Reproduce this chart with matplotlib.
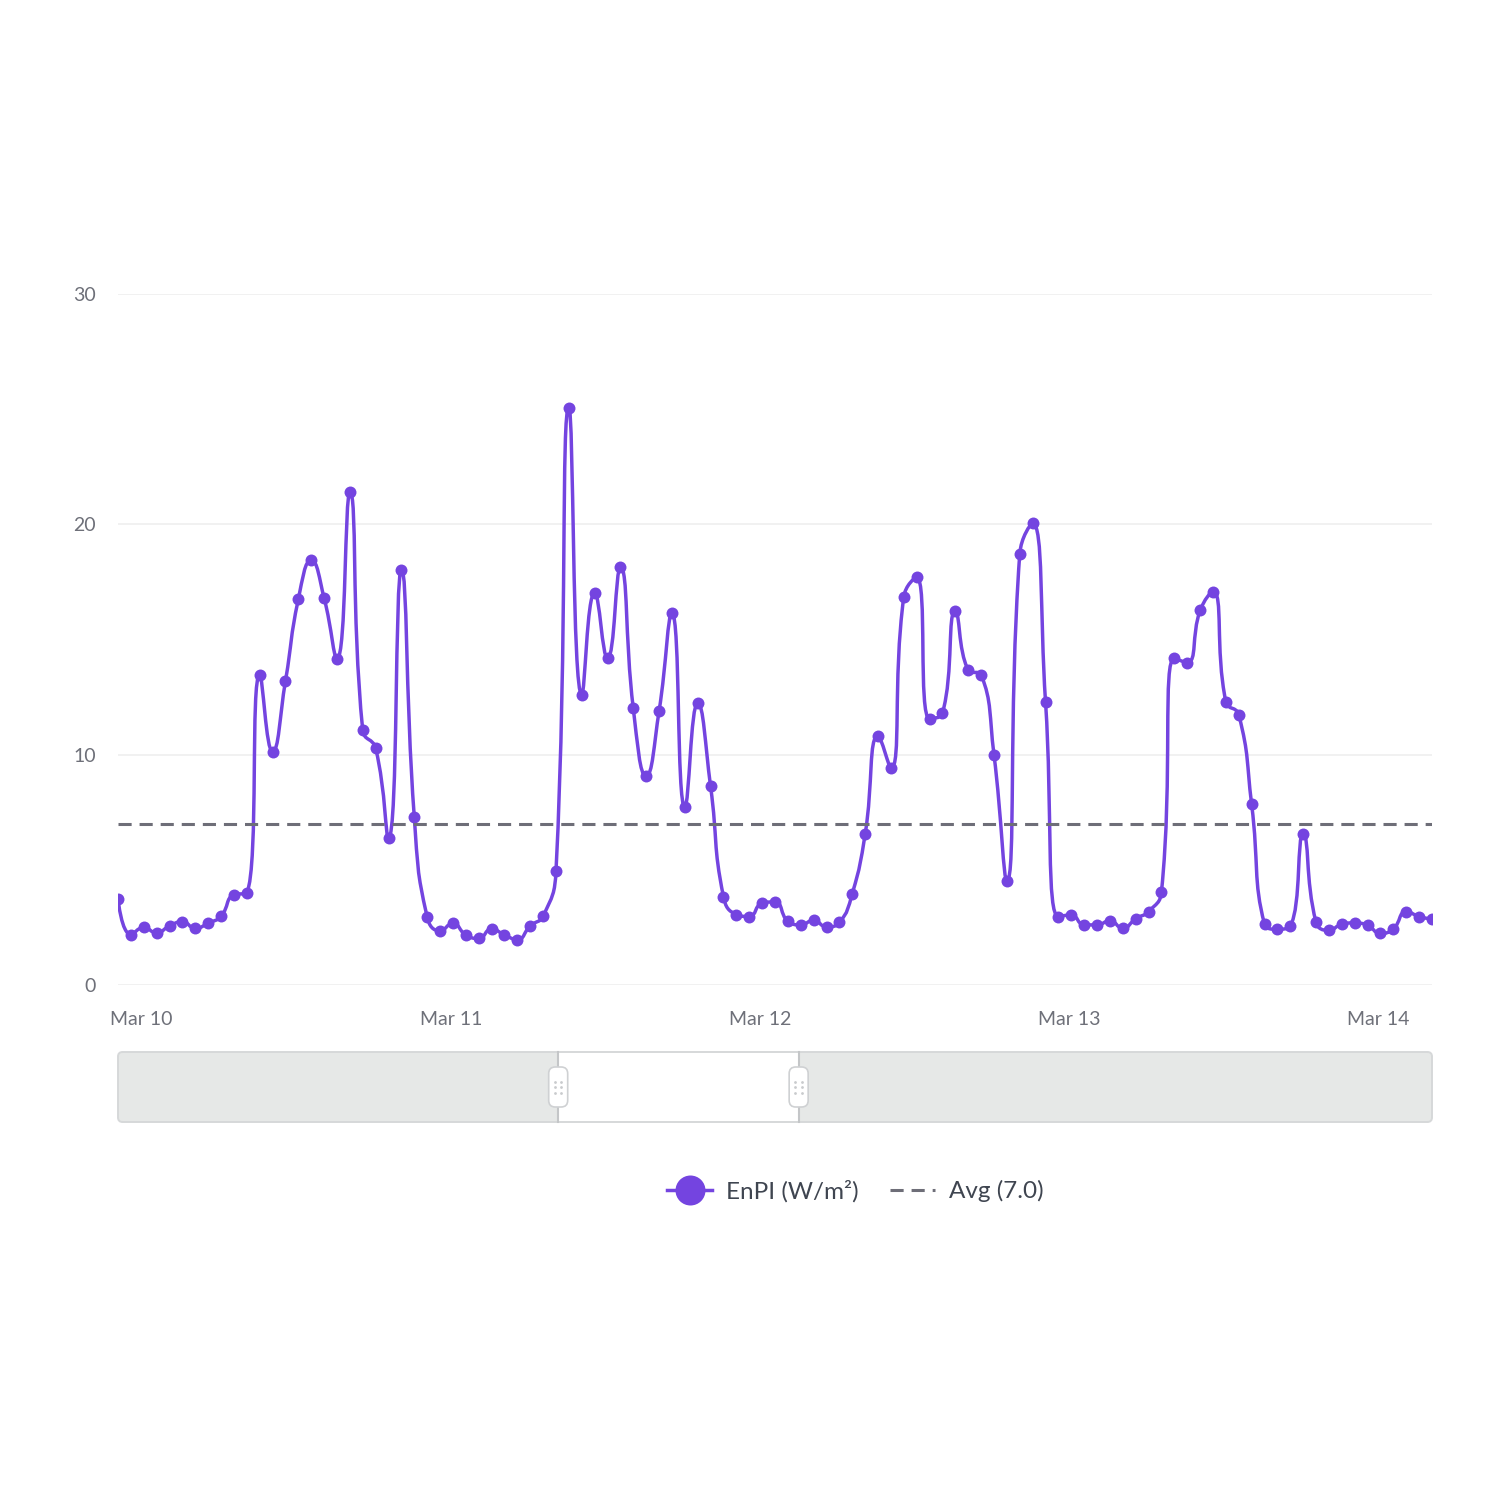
import numpy as np
import pandas as pd
import matplotlib
matplotlib.use('Agg')
import matplotlib.pyplot as plt
import matplotlib.dates as mdates
from matplotlib.path import Path
from matplotlib.patches import PathPatch, FancyBboxPatch, Rectangle
from matplotlib.lines import Line2D
from matplotlib.ticker import FuncFormatter

# ---------------- data ----------------
start_time = '2024-03-09 22:10'
enpi = [
    3.74, 2.19, 2.50, 2.26, 2.57, 2.75, 2.46, 2.68, 2.99, 3.92, 3.99,
    13.45, 10.12, 13.20, 16.75, 18.45, 16.80, 14.15, 21.39, 11.05, 10.28, 6.38, 18.03, 7.29,
    2.95, 2.35, 2.68, 2.17, 2.02, 2.44, 2.17, 1.97, 2.57, 2.99, 4.96,
    25.07, 12.60, 17.03, 14.18, 18.14, 12.01, 9.06, 11.89, 16.15, 7.73, 12.25, 8.62,
    3.83, 3.06, 2.97, 3.56, 3.61, 2.77, 2.61, 2.81, 2.52, 2.72, 3.97, 6.56,
    10.81, 9.41, 16.86, 17.70, 11.56, 11.80, 16.24, 13.67, 13.47, 9.99, 4.52, 18.72, 20.04, 12.29,
    2.97, 3.04, 2.61, 2.61, 2.79, 2.46, 2.88, 3.19, 4.05,
    14.18, 14.00, 16.26, 17.08, 12.29, 11.74, 7.84, 2.64, 2.42, 2.55, 6.56, 2.73, 2.37, 2.64,
    2.70, 2.59, 2.24, 2.44, 3.19, 2.97, 2.86,
]
avg_value = 7.0
y_ticks = [0, 10, 20, 30]
series_label = 'EnPI (W/m²)'
avg_label = 'Avg (7.0)'
zoom_start_pct = 33.5
zoom_end_pct = 51.8

# ---------------- style ----------------
PURPLE = '#7444E0'
AXIS_TXT = '#6e7079'
GRID = '#efefef'
AVG_C = '#6e6e78'

plt.rcParams['font.family'] = ['Lato', 'DejaVu Sans']

W = H = 1491
fig = plt.figure(figsize=(W / 100, H / 100), dpi=100)
fig.patch.set_facecolor('white')

ax = fig.add_axes([118 / W, 1 - 985 / H, (1432 - 118) / W, (985 - 294) / H])

times = pd.date_range(start_time, periods=len(enpi), freq='h')
x = mdates.date2num(times.to_pydatetime())
y = np.asarray(enpi, dtype=float)

ax.set_xlim(x[0], x[-1])
ax.set_ylim(y_ticks[0], y_ticks[-1])
ax.set_yticks(y_ticks)
ax.grid(axis='y', color=GRID, lw=1.2)
ax.set_axisbelow(True)
for s in ax.spines.values():
    s.set_visible(False)

ax.xaxis.set_major_locator(mdates.DayLocator())
ax.xaxis.set_major_formatter(FuncFormatter(
    lambda v, p: mdates.num2date(v).strftime('%b ') + str(mdates.num2date(v).day)))
ax.tick_params(axis='both', length=0, labelsize=14, labelcolor=AXIS_TXT)
ax.tick_params(axis='y', pad=16)
ax.tick_params(axis='x', pad=19)


# smoothed line (ECharts-like bezier smoothing in pixel space)
def smooth_path(P, smooth=0.5):
    n = len(P)
    verts = [P[0]]
    codes = [Path.MOVETO]
    cp0 = P[0].copy()
    for i in range(1, n):
        xx, yy = P[i]
        px, py = P[i - 1]
        if i == n - 1:
            cp1 = np.array([xx, yy])
            ncp0 = None
        else:
            nx, ny = P[i + 1]
            vx, vy = nx - px, ny - py
            l0 = np.hypot(xx - px, yy - py)
            l1 = np.hypot(nx - xx, ny - yy)
            r = l1 / (l0 + l1)
            ncx = xx + vx * smooth * r
            ncy = yy + vy * smooth * r
            ncx = min(ncx, max(nx, xx)); ncy = min(ncy, max(ny, yy))
            ncx = max(ncx, min(nx, xx)); ncy = max(ncy, min(ny, yy))
            vx = ncx - xx; vy = ncy - yy
            c1x = xx - vx * l0 / l1; c1y = yy - vy * l0 / l1
            c1x = min(c1x, max(px, xx)); c1y = min(c1y, max(py, yy))
            c1x = max(c1x, min(px, xx)); c1y = max(c1y, min(py, yy))
            vx = xx - c1x; vy = yy - c1y
            ncx = xx + vx * l1 / l0; ncy = yy + vy * l1 / l0
            cp1 = np.array([c1x, c1y])
            ncp0 = np.array([ncx, ncy])
        verts += [cp0, cp1, P[i]]
        codes += [Path.CURVE4] * 3
        cp0 = ncp0
    return np.array(verts), codes


pix = ax.transData.transform(np.column_stack([x, y]))
v_pix, codes = smooth_path(pix, 0.5)
v_data = ax.transData.inverted().transform(v_pix)
ax.add_patch(PathPatch(Path(v_data, codes), fill=False, edgecolor=PURPLE,
                       lw=2.5, joinstyle='round', capstyle='round', zorder=3))
ax.plot(x, y, 'o', ls='none', color=PURPLE, ms=8.6, mec=PURPLE, mew=0, zorder=4)

ax.axhline(avg_value, color=AVG_C, lw=2.2, ls=(0, (4.3, 2.6)), zorder=5)

# ---------------- data zoom slider ----------------
sax = fig.add_axes([118 / W, 1 - 1122 / H, 1314 / W, 70 / H])
sax.set_xlim(0, 100)
sax.set_ylim(0, 1)
sax.axis('off')
asp = (1 / 70) / (100 / 1314)
sax.add_patch(FancyBboxPatch((0, 0), 100, 1, boxstyle='round,pad=0,rounding_size=0.35',
                             mutation_aspect=asp, fc='#e6e8e7', ec='none', clip_on=False))
sax.add_patch(Rectangle((zoom_start_pct, 0), zoom_end_pct - zoom_start_pct, 1,
                        fc='white', ec='none', clip_on=False))
sax.add_patch(FancyBboxPatch((0, 0), 100, 1, boxstyle='round,pad=0,rounding_size=0.35',
                             mutation_aspect=asp, fc='none', ec='#d6d8d9', lw=1.4, clip_on=False))
hw = 19 / 13.14
hh = 40 / 70
for pos in (zoom_start_pct, zoom_end_pct):
    sax.plot([pos, pos], [0, 1], color='#c4c6c8', lw=1.5, clip_on=False)
    sax.add_patch(FancyBboxPatch((pos - hw / 2, 0.5 - hh / 2), hw, hh,
                                 boxstyle='round,pad=0,rounding_size=0.5',
                                 mutation_aspect=asp, fc='white', ec='#cfd1d3', lw=1.2,
                                 clip_on=False, zorder=5))
    for dx in (-3.3 / 13.14, 3.3 / 13.14):
        for dy in (-5.5 / 70, 0, 5.5 / 70):
            sax.plot(pos + dx, 0.5 + dy, 'o', ms=2.0, color='#c9cbcd', mew=0,
                     clip_on=False, zorder=6)

# ---------------- legend ----------------
h1 = Line2D([], [], color=PURPLE, lw=2.5, marker='o', ms=21.6, mfc=PURPLE, mec=PURPLE, mew=0)
h2 = Line2D([], [], color=AVG_C, lw=2.2, ls=(0, (4.3, 2.6)))
fig.legend(handles=[h1, h2], labels=[series_label, avg_label], loc='center',
           bbox_to_anchor=(855.5 / W, 1 - 1191 / H), ncol=2, frameon=False,
           fontsize=17.5, handlelength=1.85, handletextpad=0.57, columnspacing=1.3,
           labelcolor='#3f4550')

fig.savefig('out.png', dpi=100, facecolor='white')
